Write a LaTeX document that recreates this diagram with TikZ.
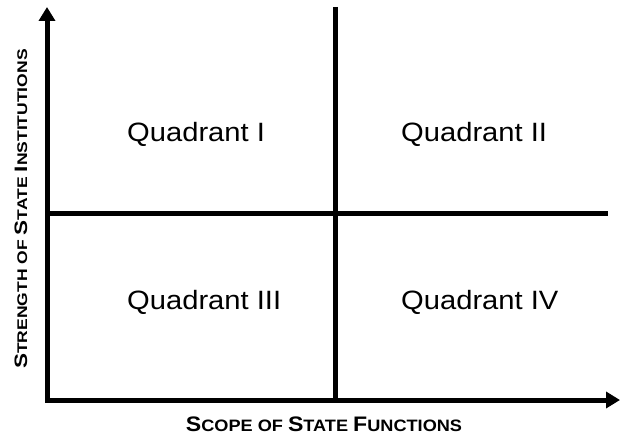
\documentclass[tikz,border=0pt]{standalone}
\usepackage{fontspec}
\setmainfont{Liberation Sans}
\usetikzlibrary{arrows.meta,positioning}
% big first letter, smaller capitals after it
\newcommand{\capsmall}[3]{{\fontsize{#3}{#3}\selectfont #1}#2}
\tikzset{
  axis/.style={{Triangle[length=14pt,width=16pt]}-{Triangle[length=14pt,width=16pt]}, line width=5pt, line join=miter, black},
  divider/.style={line width=5pt, black},
  quad/.style={anchor=base west, inner sep=0pt, font=\fontsize{26.5}{30}\selectfont},
  xlabel/.style={inner sep=0pt, font=\bfseries\fontsize{16.5}{17}\selectfont},
  ylabel/.style={inner sep=0pt, rotate=90, font=\bfseries\fontsize{14}{15}\selectfont}
}
\begin{document}
\begin{tikzpicture}[x=1pt,y=1pt]
  \useasboundingbox (0,0) rectangle (620,437);
  \coordinate (origin) at (47,37);
  \coordinate (ytip) at (47,430);
  \coordinate (xtip) at (620,37);
  \coordinate (vtop) at (335,430);
  \coordinate (vbot) at (335,37);
  \coordinate (hleft) at (47,224);
  \coordinate (hright) at (608,224);
  \draw[axis] (ytip) -- (origin) -- (xtip);
  \draw[divider] (vtop) -- (vbot);
  \draw[divider] (hleft) -- (hright);
  \node[quad] (q1) at (127,295) {\scalebox{1.1}[1]{Quadrant I}};
  \node[quad] (q2) at (401,295) {\scalebox{1.1}[1]{Quadrant II}};
  \node[quad] (q3) at (127,128) {\scalebox{1.1}[1]{Quadrant III}};
  \node[quad] (q4) at (401,128) {\scalebox{1.1}[1]{Quadrant IV}};
  \node[xlabel] (xlab) at (324,13) {\scalebox{1.1}[1]{\capsmall{S}{COPE OF}{21} \capsmall{S}{TATE}{21} \capsmall{F}{UNCTIONS}{21}}};
  \node[ylabel] (ylab) at (21,228) {\scalebox{1.25}[1]{\capsmall{S}{TRENGTH OF}{18} \capsmall{S}{TATE}{18} \capsmall{I}{NSTITUTIONS}{18}}};
\end{tikzpicture}
\end{document}
